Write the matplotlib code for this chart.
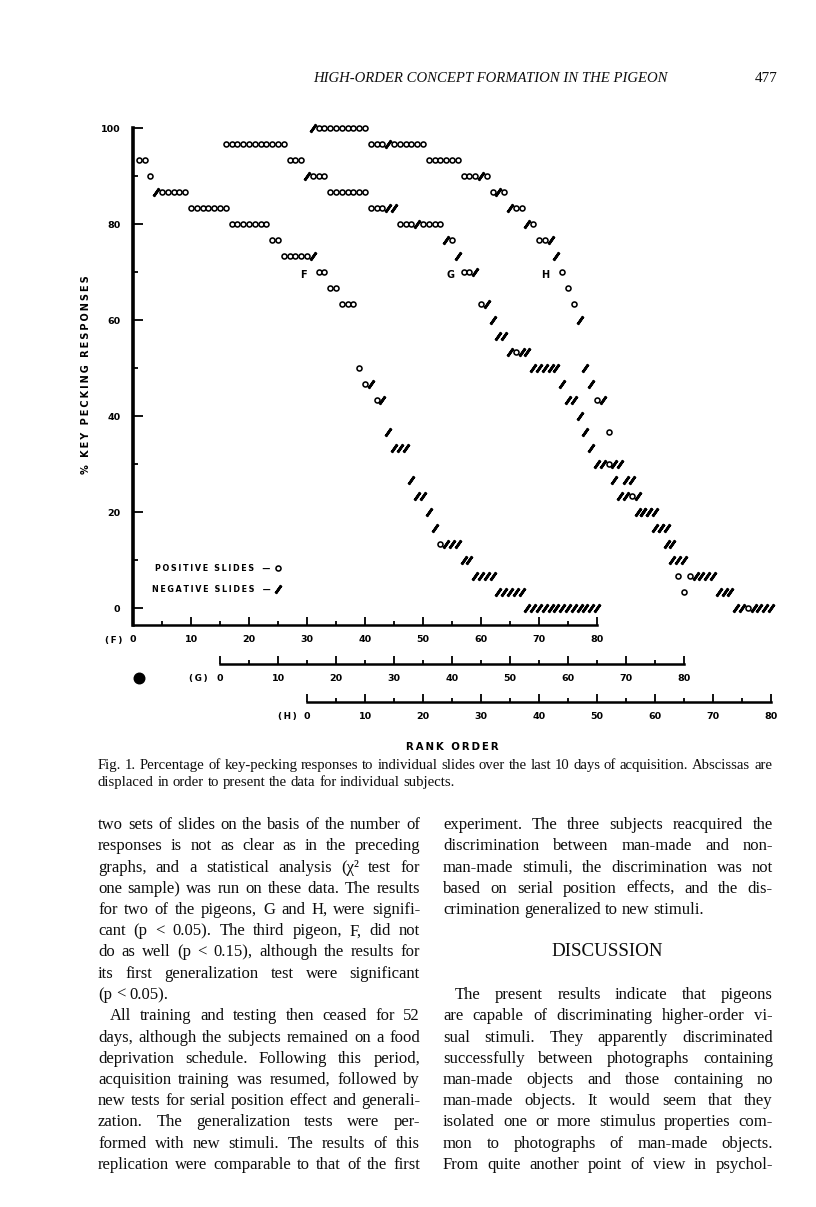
import numpy as np
import matplotlib
matplotlib.use('Agg')
import matplotlib.pyplot as plt
from matplotlib.lines import Line2D
from matplotlib.ticker import FixedLocator


# ─────────────────────────────────────────────
# Data  (rank groups; percent steps of 3.33)
# ─────────────────────────────────────────────

F_START = [1, 3, 4, 10, 17, 24, 26, 32, 34, 36, 39, 40, 42, 44, 45, 48, 49, 51, 52, 53, 57, 59, 63, 68]
F_PCT   = [93.3, 90, 86.7, 83.3, 80, 76.7, 73.3, 70, 66.7, 63.3, 50, 46.7, 43.3, 36.7, 33.3,
           26.7, 23.3, 20, 16.7, 13.3, 10, 6.7, 3.3, 0]
F_MARKS = ['oo', 'o', '/ooooo', 'ooooooo', 'ooooooo', 'oo', 'ooooo/', 'oo', 'oo', 'ooo', 'o', 'o/',
           'o/', '/', '///', '/', '//', '/', '/', 'o///', '//', '////', '/////', '/////////////']

G_START = [1, 12, 15, 19, 26, 31, 39, 41, 42, 45, 47, 48, 50, 54, 59, 60, 62, 63, 64, 65, 68, 69,
           72, 75, 77, 78, 79, 80]
G_PCT   = [96.7, 93.3, 90, 86.7, 83.3, 80, 76.7, 73.3, 70, 63.3, 60, 56.7, 53.3, 50, 46.7, 43.3,
           40, 36.7, 33.3, 30, 26.7, 23.3, 20, 16.7, 13.3, 10, 6.7, 3.3]
G_MARKS = ['ooooooooooo', 'ooo', '/ooo', 'ooooooo', 'ooo//', 'ooo/oooo', '/o', '/', 'oo/', 'o/',
           '/', '//', '/o//', '/////', '/', '//', '/', '/', '/', '//o', '/', '//o', '///', '//',
           '/', '/', 'o', 'o']

H_START = [1, 11, 21, 27, 32, 35, 38, 40, 43, 44, 45, 46, 47, 48, 49, 50, 52, 53, 55, 57, 58, 61,
           63, 64, 66, 71, 74]
H_PCT   = [100, 96.7, 93.3, 90, 86.7, 83.3, 80, 76.7, 73.3, 70, 66.7, 63.3, 60, 50, 46.7, 43.3,
           36.7, 30, 26.7, 23.3, 20, 16.7, 13.3, 10, 6.7, 3.3, 0]
H_MARKS = ['/ooooooooo', 'ooo/oooooo', 'oooooo', 'ooo/o', 'o/o', '/oo', '/o', 'oo/', '/', 'o',
           'o', 'o', '/', '/', '/', 'o/', 'o', '//', '//', '/', '///', '//', '/', '//', 'o////',
           '///', '//o////']

# abscissa of G and H starts under these ranks of F
G_SHIFT = 15
H_SHIFT = 30

Y_TICKS   = [0, 20, 40, 60, 80, 100]
X_TICKS   = list(range(0, 81, 10))
X_MINOR   = list(range(5, 80, 10))
Y_MINOR   = [10, 30, 50, 70, 90]

HEADER  = 'HIGH-ORDER CONCEPT FORMATION IN THE PIGEON'
PAGE_NO = '477'
CAPTION = ['Fig. 1. Percentage of key-pecking responses to individual slides over the last 10 days of acquisition. Abscissas are',
           'displaced in order to present the data for individual subjects.']

# (text, indent, justified)
LEFT_COL = [
    ('two sets of slides on the basis of the number of', 0, True),
    ('responses is not as clear as in the preceding', 0, True),
    ('graphs, and a statistical analysis (\u03c7\u00b2 test for', 0, True),
    ('one sample) was run on these data. The results', 0, True),
    ('for two of the pigeons, G and H, were signifi-', 0, True),
    ('cant (p < 0.05). The third pigeon, F, did not', 0, True),
    ('do as well (p < 0.15), although the results for', 0, True),
    ('its first generalization test were significant', 0, True),
    ('(p < 0.05).', 0, False),
    ('All training and testing then ceased for 52', 1, True),
    ('days, although the subjects remained on a food', 0, True),
    ('deprivation schedule. Following this period,', 0, True),
    ('acquisition training was resumed, followed by', 0, True),
    ('new tests for serial position effect and generali-', 0, True),
    ('zation. The generalization tests were per-', 0, True),
    ('formed with new stimuli. The results of this', 0, True),
    ('replication were comparable to that of the first', 0, True),
]
RIGHT_COL = [
    ('experiment. The three subjects reacquired the', 0, True),
    ('discrimination between man-made and non-', 0, True),
    ('man-made stimuli, the discrimination was not', 0, True),
    ('based on serial position effects, and the dis-', 0, True),
    ('crimination generalized to new stimuli.', 0, False),
    None, None, None,
    ('The present results indicate that pigeons', 1, True),
    ('are capable of discriminating higher-order vi-', 0, True),
    ('sual stimuli. They apparently discriminated', 0, True),
    ('successfully between photographs containing', 0, True),
    ('man-made objects and those containing no', 0, True),
    ('man-made objects. It would seem that they', 0, True),
    ('isolated one or more stimulus properties com-', 0, True),
    ('mon to photographs of man-made objects.', 0, True),
    ('From quite another point of view in psychol-', 0, True),
]
HEADING = 'DISCUSSION'


# ─────────────────────────────────────────────
# Helpers
# ─────────────────────────────────────────────

W, H, DPI = 816, 1207, 100
X_PX = 5.8          # pixels per rank
Y_PX = 4.8          # pixels per percent


def fx(x):
    return x / W


def fy(y):
    return 1 - y / H


def expand(starts, pcts, marks):
    """groups -> (rank, pct), split into positive / negative slides"""
    pos, neg = [], []
    for s, p, m in zip(starts, pcts, marks):
        for i, c in enumerate(m):
            (pos if c == 'o' else neg).append((s + i, p))
    return np.array(pos), np.array(neg)


def spaced(s, sep='\u2009'):
    return sep.join(list(s))


POS_STYLE = dict(ls='none', marker='o', ms=3.6, mew=1.15, mfc='white', mec='black')
NEG_STYLE = dict(ls='none', marker=(2, 2, -35), ms=7, mew=1.9, color='black')
LETTER = dict(family='DejaVu Sans', weight='bold', color='black')


def plot_subject(a, starts, pcts, marks):
    pos, neg = expand(starts, pcts, marks)
    a.plot(pos[:, 0], pos[:, 1], clip_on=False, zorder=3, **POS_STYLE)
    a.plot(neg[:, 0], neg[:, 1], clip_on=False, zorder=3, **NEG_STYLE)


def style_xaxis(a, outward_px):
    for side in ['top', 'right', 'left']:
        a.spines[side].set_visible(False)
    a.spines['bottom'].set_visible(True)
    a.spines['bottom'].set_position(('outward', outward_px * 0.72))
    a.spines['bottom'].set_bounds(0, 80)
    a.spines['bottom'].set_linewidth(1.8)
    a.xaxis.set_major_locator(FixedLocator(X_TICKS))
    a.xaxis.set_minor_locator(FixedLocator(X_MINOR))
    a.tick_params(axis='x', which='both', direction='in', bottom=True, top=False,
                  labelbottom=True, labeltop=False, width=1.3)
    a.tick_params(axis='x', which='major', length=6, pad=7, labelsize=6.8)
    a.tick_params(axis='x', which='minor', length=3)
    for lab in a.get_xticklabels():
        lab.set_fontweight('bold')


# ─────────────────────────────────────────────
# Figure
# ─────────────────────────────────────────────

fig = plt.figure(figsize=(W / DPI, H / DPI), dpi=DPI, facecolor='white')
renderer = fig.canvas.get_renderer()

ax_left, ax_right, ax_top, ax_bot = 133, 785, 128, 625
ax = fig.add_axes([fx(ax_left), fy(ax_bot), (ax_right - ax_left) / W, (ax_bot - ax_top) / H])
ax.patch.set_visible(False)
ax.set_xlim(0, (ax_right - ax_left) / X_PX)
ax.set_ylim(-(ax_bot - 608) / Y_PX, 100)

ax.spines['left'].set_linewidth(2.6)
style_xaxis(ax, 0)
ax.spines['left'].set_visible(True)
ax.yaxis.set_major_locator(FixedLocator(Y_TICKS))
ax.yaxis.set_minor_locator(FixedLocator(Y_MINOR))
ax.tick_params(axis='y', which='both', direction='in', width=1.3)
ax.tick_params(axis='y', which='major', length=7, pad=9, labelsize=6.8)
ax.tick_params(axis='y', which='minor', length=3.5)
for lab in ax.get_yticklabels():
    lab.set_fontweight('bold')

# G and H: same ordinate, abscissa displaced
ax_g = ax.twiny()
ax_g.set_xlim(ax.get_xlim()[0] - G_SHIFT, ax.get_xlim()[1] - G_SHIFT)
style_xaxis(ax_g, 39)
ax_h = ax.twiny()
ax_h.set_xlim(ax.get_xlim()[0] - H_SHIFT, ax.get_xlim()[1] - H_SHIFT)
style_xaxis(ax_h, 77)

plot_subject(ax, F_START, F_PCT, F_MARKS)
plot_subject(ax_g, G_START, G_PCT, G_MARKS)
plot_subject(ax_h, H_START, H_PCT, H_MARKS)

# curve letters
ax.text(29.3, 69.3, 'F', ha='center', va='center', fontsize=7, **LETTER)
ax_g.text(39.8, 69.3, 'G', ha='center', va='center', fontsize=7, **LETTER)
ax_h.text(41.0, 69.3, 'H', ha='center', va='center', fontsize=7, **LETTER)

# legend: label first, symbol after
handles = [Line2D([], [], **POS_STYLE), Line2D([], [], **NEG_STYLE)]
leg = ax.legend(handles, [spaced('POSITIVE SLIDES') + '   \u2014', spaced('NEGATIVE SLIDES') + '   \u2014'],
                markerfirst=False, frameon=False, loc='upper left',
                bbox_to_anchor=(fx(152), fy(564)), bbox_transform=fig.transFigure,
                handlelength=0.9, handletextpad=0.5, labelspacing=1.45,
                borderpad=0, borderaxespad=0,
                prop=dict(family='DejaVu Sans', weight='bold', size=5.8))

# axis names
fig.text(fx(86), fy(375), spaced('% KEY PECKING RESPONSES'), rotation=90,
         ha='center', va='center', fontsize=7, **LETTER)
fig.text(fx(452), fy(747), spaced('RANK ORDER'), ha='center', va='center', fontsize=7.3, **LETTER)
for name, x, y in [('(F)', 114, 640), ('(G)', 198, 679), ('(H)', 287, 717)]:
    fig.text(fx(x), fy(y), spaced(name), ha='center', va='center', fontsize=6.3, **LETTER)
fig.add_artist(Line2D([fx(139)], [fy(678)], marker='o', ms=7.6, color='black',
                      transform=fig.transFigure))


# ─────────────────────────────────────────────
# Page text
# ─────────────────────────────────────────────

SERIF = 'Liberation Serif'
INK = '#0d0d0d'


def width_of(t):
    return t.get_window_extent(renderer).width


def put_line(text, x0, x1, y, justify, size, min_gap=2.6, **kw):
    words = text.split(' ')
    objs = [fig.text(0, 0, w, family=SERIF, fontsize=size, color=INK,
                     ha='left', va='baseline', **kw) for w in words]
    widths = [width_of(t) for t in objs]
    # a line that will not fit is set a little smaller
    need = sum(widths) + min_gap * (len(words) - 1)
    if justify and need > x1 - x0:
        k = (x1 - x0 - min_gap * (len(words) - 1)) / sum(widths)
        for t in objs:
            t.set_fontsize(size * k)
        widths = [width_of(t) for t in objs]
    if justify and len(words) > 1:
        gap = (x1 - x0 - sum(widths)) / (len(words) - 1)
    else:
        gap = size / 72 * DPI * 0.25
    x = x0
    for t, w in zip(objs, widths):
        t.set_position((fx(x), fy(y)))
        x += w + gap


hdr = fig.text(fx(490), fy(82), HEADER, family=SERIF, style='italic', fontsize=11,
               ha='center', va='baseline', color=INK)
hdr.set_fontsize(11 * 356 / width_of(hdr))
fig.text(fx(766), fy(82), PAGE_NO, family=SERIF, fontsize=11, ha='center', va='baseline',
         color=INK)

put_line(CAPTION[0], 98, 772, 769, True, 10.6)
put_line(CAPTION[1], 98, 772, 786, False, 10.6)

LINE_H = 21.25
BASE_Y = 829
BODY_SIZE = 12

for col, (x0, x1) in [(LEFT_COL, (98, 420)), (RIGHT_COL, (443, 773))]:
    for i, ln in enumerate(col):
        if ln is None:
            continue
        text, indent, just = ln
        put_line(text, x0 + 12 * indent, x1, BASE_Y + i * LINE_H, just, BODY_SIZE)

head = fig.text(fx(607), fy(BASE_Y + 6 * LINE_H), HEADING, family=SERIF, fontsize=12,
                ha='center', va='baseline', color=INK)
head.set_fontsize(12 * 111 / width_of(head))

fig.savefig('out.png', dpi=DPI, facecolor='white')
plt.close(fig)
